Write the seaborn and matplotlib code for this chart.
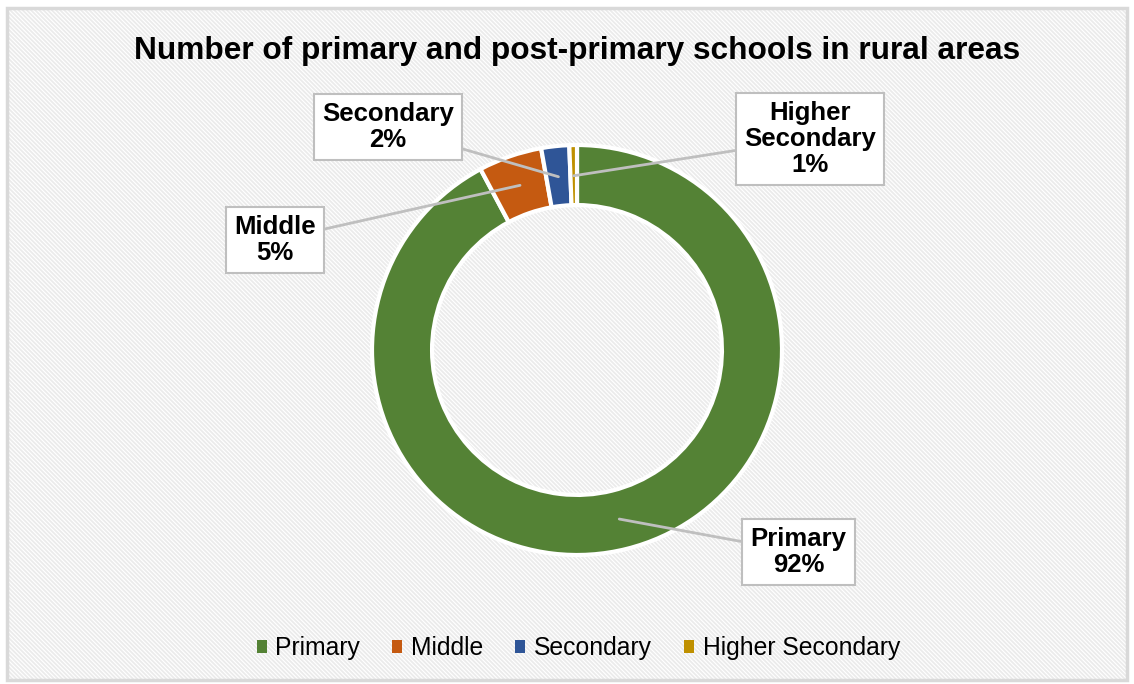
import numpy as np
import matplotlib
matplotlib.use("Agg")
import matplotlib.pyplot as plt
from matplotlib.patches import Rectangle
import seaborn as sns

# School categories and their shares (%) of rural schools
categories = ["Primary", "Middle", "Secondary", "Higher Secondary"]
shares = [92.2, 5.0, 2.2, 0.6]
colors = ["#548235", "#C55A11", "#2F5597", "#BF9000"]

# Label placement (figure fraction) for each category's callout box
label_pos = {
    "Primary": (0.704, 0.193),
    "Middle": (0.2425, 0.649),
    "Secondary": (0.342, 0.814),
    "Higher Secondary": (0.714, 0.797),
}

sns.set_theme(style="white")
plt.rcParams["font.family"] = ["Liberation Sans", "DejaVu Sans"]
plt.rcParams["text.color"] = "black"
plt.rcParams["hatch.linewidth"] = 1.3

W, H = 1134, 684
fig = plt.figure(figsize=(W / 100, H / 100), dpi=100)
fig.patch.set_facecolor("white")

# Hatched chart-area background with a light border
fig.patches.append(Rectangle((0.006, 0.006), 0.988, 0.982, transform=fig.transFigure,
                             facecolor="white", edgecolor="#ebebeb", hatch="\\" * 8,
                             linewidth=0, zorder=-10))
fig.patches.append(Rectangle((0.006, 0.006), 0.988, 0.982, transform=fig.transFigure,
                             facecolor="none", edgecolor="#d9d9d9", linewidth=2.5, zorder=-9))

ax = fig.add_axes([372 / W, 129 / H, 410 / W, 410 / H])
wedges, _ = ax.pie(shares, colors=colors, startangle=90, counterclock=False,
                   radius=1.0, wedgeprops=dict(width=0.293, edgecolor="white", linewidth=3))
ax.set_xlim(-1, 1)
ax.set_ylim(-1, 1)
ax.set_aspect("equal")
ax.axis("off")

fig.text(0.509, 0.926, "Number of primary and post-primary schools in rural areas",
         ha="center", va="center", fontsize=22.8, fontweight="bold", color="black")

for w, cat, val in zip(wedges, categories, shares):
    mid = np.deg2rad((w.theta1 + w.theta2) / 2)
    anchor = (0.85 * np.cos(mid), 0.85 * np.sin(mid))
    name = "Higher\nSecondary" if cat == "Higher Secondary" else cat
    ax.annotate(f"{name}\n{val:.0f}%", xy=anchor, xycoords="data",
                xytext=label_pos[cat], textcoords="figure fraction",
                ha="center", va="center", fontsize=18.5, fontweight="bold",
                color="black", linespacing=1.1, annotation_clip=False,
                bbox=dict(boxstyle="square,pad=0.32", facecolor="white",
                          edgecolor="#bfbfbf", linewidth=1.5),
                arrowprops=dict(arrowstyle="-", color="#bfbfbf", lw=2,
                                shrinkA=0, shrinkB=0))

handles = [Rectangle((0, 0), 1, 1, facecolor=c, edgecolor="none") for c in colors]
leg = fig.legend(handles, categories, loc="center", bbox_to_anchor=(0.51, 0.052), ncol=4,
                 frameon=False, fontsize=17.8, handlelength=0.4, handleheight=0.4,
                 handletextpad=0.35, columnspacing=1.3)
for t in leg.get_texts():
    t.set_color("black")

fig.savefig("out.png", dpi=100)
